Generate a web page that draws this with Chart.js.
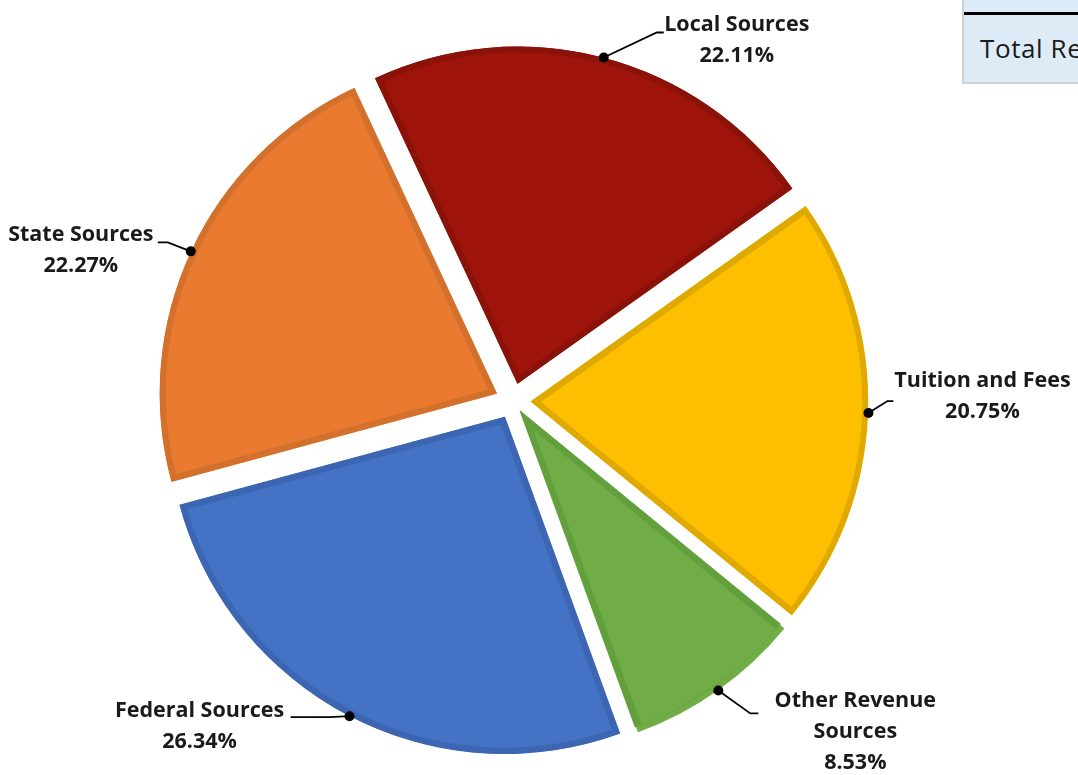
<!DOCTYPE html>
<html>
<head>
<meta charset="utf-8">
<script src="https://cdn.jsdelivr.net/npm/chart.js@4"></script>
<style>
  html, body { margin: 0; padding: 0; background: #ffffff; overflow: hidden; }
  #wrap { position: relative; width: 1078px; height: 775px; }
  #pie { position: absolute; left: 0; top: 0; }
  .cell {
    position: absolute; left: 962px; top: 0; width: 200px; height: 82px;
    background: #DDEBF7; border-left: 2px solid #D0D0D0; border-bottom: 2px solid #D0D0D0;
    box-sizing: content-box;
  }
  .cell .rule { position: absolute; left: 0; right: 0; top: 12px; height: 3px; background: #000; }
  .cell .txt {
    position: absolute; left: 16px; top: 30px;
    font-family: "Open Sans", "Noto Sans", sans-serif; font-size: 26px; letter-spacing: 0.6px; color: #1a1a1a;
    white-space: nowrap;
  }
</style>
</head>
<body>
<div id="wrap">
  <canvas id="pie" width="1078" height="775"></canvas>
  <div class="cell"><div class="rule"></div><div class="txt">Total Revenue</div></div>
</div>
<script>
// Revenue shares by source (percent)
const categories = ['Local Sources', 'Tuition and Fees', ['Other Revenue', 'Sources'], 'Federal Sources', 'State Sources'];
const shares = [22.11, 20.75, 8.53, 26.34, 22.27];

const fills   = ['#9E140B', '#FDBF00', '#70AD47', '#4472C4', '#E97A30'];
const borders = ['#8A1209', '#E0A900', '#62A03D', '#3C66B2', '#D2702C'];

// Leader-line layout, relative to the dot on each slice edge:
// elbow point, end point, and centre of the first text line.
const leaderLayout = [
  { elbow: [53, -25], end: [60, -25], text: [133, -33] },
  { elbow: [19, -12], end: [25, -12], text: [114, -32] },
  { elbow: [32, 23],  end: [40, 23],  text: [137, 10] },
  { elbow: [-20, 1],  end: [-59, 1],  text: [-150, -5] },
  { elbow: [-23, -9], end: [-33, -9], text: [-110, -16] }
];
const LINE_GAP = 31;

const leaderPlugin = {
  id: 'leaders',
  afterDatasetsDraw(chart) {
    const ctx = chart.ctx;
    const meta = chart.getDatasetMeta(0);
    meta.data.forEach((arc, i) => {
      const p = arc.getProps(['x', 'y', 'startAngle', 'endAngle', 'outerRadius', 'circumference'], true);
      // same outward shift that Chart.js applies to an offset arc
      const off = (arc.options.offset || 0) / 4;
      const fix = 1 - Math.sin(Math.min(Math.PI, p.circumference || 0));
      const shift = off * (1 + fix);
      const mid = (p.startAngle + p.endAngle) / 2;
      const dx = p.x + Math.cos(mid) * (shift + p.outerRadius);
      const dy = p.y + Math.sin(mid) * (shift + p.outerRadius);
      const lay = leaderLayout[i];

      ctx.save();
      ctx.strokeStyle = '#000';
      ctx.lineWidth = 1.8;
      ctx.beginPath();
      ctx.moveTo(dx, dy);
      ctx.lineTo(dx + lay.elbow[0], dy + lay.elbow[1]);
      ctx.lineTo(dx + lay.end[0], dy + lay.end[1]);
      ctx.stroke();
      ctx.fillStyle = '#000';
      ctx.beginPath();
      ctx.arc(dx, dy, 5, 0, Math.PI * 2);
      ctx.fill();

      const name = categories[i];
      const lines = (Array.isArray(name) ? name.slice() : [name]);
      lines.push(shares[i].toFixed(2) + '%');
      ctx.font = '700 21.5px "Open Sans", "Noto Sans", sans-serif';
      ctx.fillStyle = '#1a1a1a';
      ctx.textAlign = 'center';
      ctx.textBaseline = 'middle';
      lines.forEach((t, k) => {
        ctx.fillText(t, dx + lay.text[0], dy + lay.text[1] + k * LINE_GAP);
      });
      ctx.restore();
    });
  }
};

new Chart(document.getElementById('pie'), {
  type: 'pie',
  data: {
    labels: categories,
    datasets: [{
      data: shares,
      backgroundColor: fills,
      borderColor: borders,
      borderWidth: 6,
      borderAlign: 'inner',
      offset: [72, 72, 48, 72, 72],
      radius: 337
    }]
  },
  options: {
    responsive: false,
    animation: false,
    events: [],
    rotation: -25,
    layout: { padding: { left: 0, right: 52, top: 27, bottom: 0 } },
    plugins: {
      legend: { display: false },
      tooltip: { enabled: false }
    }
  },
  plugins: [leaderPlugin]
});
</script>
</body>
</html>
